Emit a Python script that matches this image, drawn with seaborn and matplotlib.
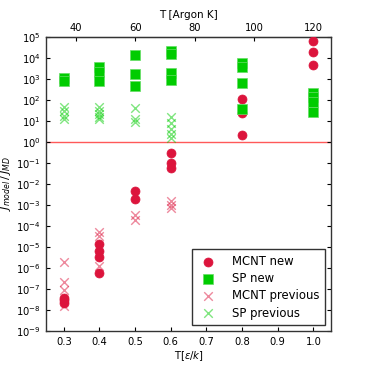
import numpy as np
import pandas as pd
import matplotlib
matplotlib.use("Agg")
import matplotlib.pyplot as plt
import seaborn as sns
from matplotlib.ticker import FixedLocator, NullLocator, LogFormatterMathtext

plt.rcParams['font.family'] = ['DejaVu Sans']
plt.rcParams['mathtext.fontset'] = 'dejavusans'

# ---- data ----
mcnt_new_T = [0.3, 0.3, 0.3, 0.4, 0.4, 0.4, 0.4, 0.5, 0.5, 0.6, 0.6, 0.6,
              0.8, 0.8, 0.8, 1.0, 1.0, 1.0]
mcnt_new_J = [4e-8, 3e-8, 2.3e-8, 1.4e-5, 6.3e-6, 3.2e-6, 6e-7, 4.4e-3, 2e-3,
              0.3, 0.1, 0.055, 115, 25, 2.1, 65000, 18400, 4500]

sp_new_T = [0.3, 0.3, 0.4, 0.4, 0.4, 0.5, 0.5, 0.5, 0.6, 0.6, 0.6, 0.6,
            0.8, 0.8, 0.8, 0.8, 1.0, 1.0, 1.0, 1.0]
sp_new_J = [1100, 750, 3500, 2100, 750, 13000, 1660, 470, 21800, 15600, 1950, 910,
            5900, 3800, 620, 35, 210, 130, 78, 26]

mcnt_prev_T = [0.3, 0.3, 0.3, 0.3, 0.4, 0.4, 0.4, 0.5, 0.5, 0.6, 0.6, 0.6]
mcnt_prev_J = [2e-6, 2.3e-7, 9e-8, 1.5e-8, 5e-5, 3.5e-5, 1.3e-6, 3.5e-4, 2e-4,
               1.5e-3, 1e-3, 7e-4]

sp_prev_T = [0.3, 0.3, 0.3, 0.3, 0.4, 0.4, 0.4, 0.4, 0.4, 0.5, 0.5, 0.5,
             0.6, 0.6, 0.6, 0.6, 0.6]
sp_prev_J = [45, 30, 18, 12, 45, 30, 22, 16, 12, 41, 13, 8.5, 15, 8, 4, 2.5, 1.6]

labels = ["MCNT new", "SP new", "MCNT previous", "SP previous"]
x_ticks = [0.3, 0.4, 0.5, 0.6, 0.7, 0.8, 0.9, 1.0]
top_ticks = [40, 60, 80, 100, 120]
y_exps = list(range(-9, 6))

red = '#DC143C'
green = '#00CC00'

fig = plt.figure(figsize=(3.68, 3.68), dpi=100)
ax = fig.add_axes([0.125, 0.1, 0.775, 0.8])

ax.axhline(1.0, color='#ff3030', lw=1.0, alpha=0.8, zorder=1)

sns.scatterplot(x=mcnt_prev_T, y=mcnt_prev_J, ax=ax, marker='x', s=38,
                color=red, alpha=0.5, linewidth=1.0, label=labels[2], zorder=2)
sns.scatterplot(x=sp_prev_T, y=sp_prev_J, ax=ax, marker='x', s=38,
                color=green, alpha=0.5, linewidth=1.0, label=labels[3], zorder=2)
sns.scatterplot(x=mcnt_new_T, y=mcnt_new_J, ax=ax, marker='o', s=42,
                color=red, edgecolor=red, linewidth=0.5, label=labels[0], zorder=3)
sns.scatterplot(x=sp_new_T, y=sp_new_J, ax=ax, marker='s', s=42,
                color=green, edgecolor='#66dd66', linewidth=0.5, label=labels[1], zorder=3)

ax.set_yscale('log')
ax.set_ylim(1e-9, 1e5)
ax.set_xlim(0.25, 1.05)
ax.yaxis.set_major_locator(FixedLocator([10.0 ** e for e in y_exps]))
ax.yaxis.set_major_formatter(LogFormatterMathtext())
ax.yaxis.set_minor_locator(NullLocator())
ax.set_xticks(x_ticks)
ax.set_xticklabels([f"{v:.1f}" for v in x_ticks])

ax.tick_params(direction='in', length=3, width=0.8, labelsize=7.2,
               top=False, right=True, pad=4)
for sp in ax.spines.values():
    sp.set_color('#333333')
    sp.set_linewidth(1.0)

ax.set_xlabel(r'T$[\epsilon/k]$', fontsize=7.2, labelpad=2)
ax.set_ylabel(r'$J_{model}\,/\,J_{MD}$', fontsize=8, labelpad=2)

sec = ax.secondary_xaxis('top', functions=(lambda x: x * 120.0, lambda x: x / 120.0))
sec.set_xticks(top_ticks)
sec.set_xticklabels([str(v) for v in top_ticks])
sec.tick_params(direction='in', length=3, width=0.8, labelsize=7.2, pad=3)
sec.set_xlabel('T [Argon K]', fontsize=7.5, labelpad=3)

handles, labs = ax.get_legend_handles_labels()
order = [labs.index(l) for l in labels]
leg = ax.legend([handles[i] for i in order], [labs[i] for i in order],
                loc='lower right', fontsize=8.4, frameon=True, fancybox=False,
                borderaxespad=0.5, handletextpad=1.3, borderpad=0.5,
                labelspacing=0.35, scatterpoints=1, handlelength=1.6)
leg.get_frame().set_edgecolor('black')
leg.get_frame().set_linewidth(1.0)

fig.savefig('out.png', dpi=100)
